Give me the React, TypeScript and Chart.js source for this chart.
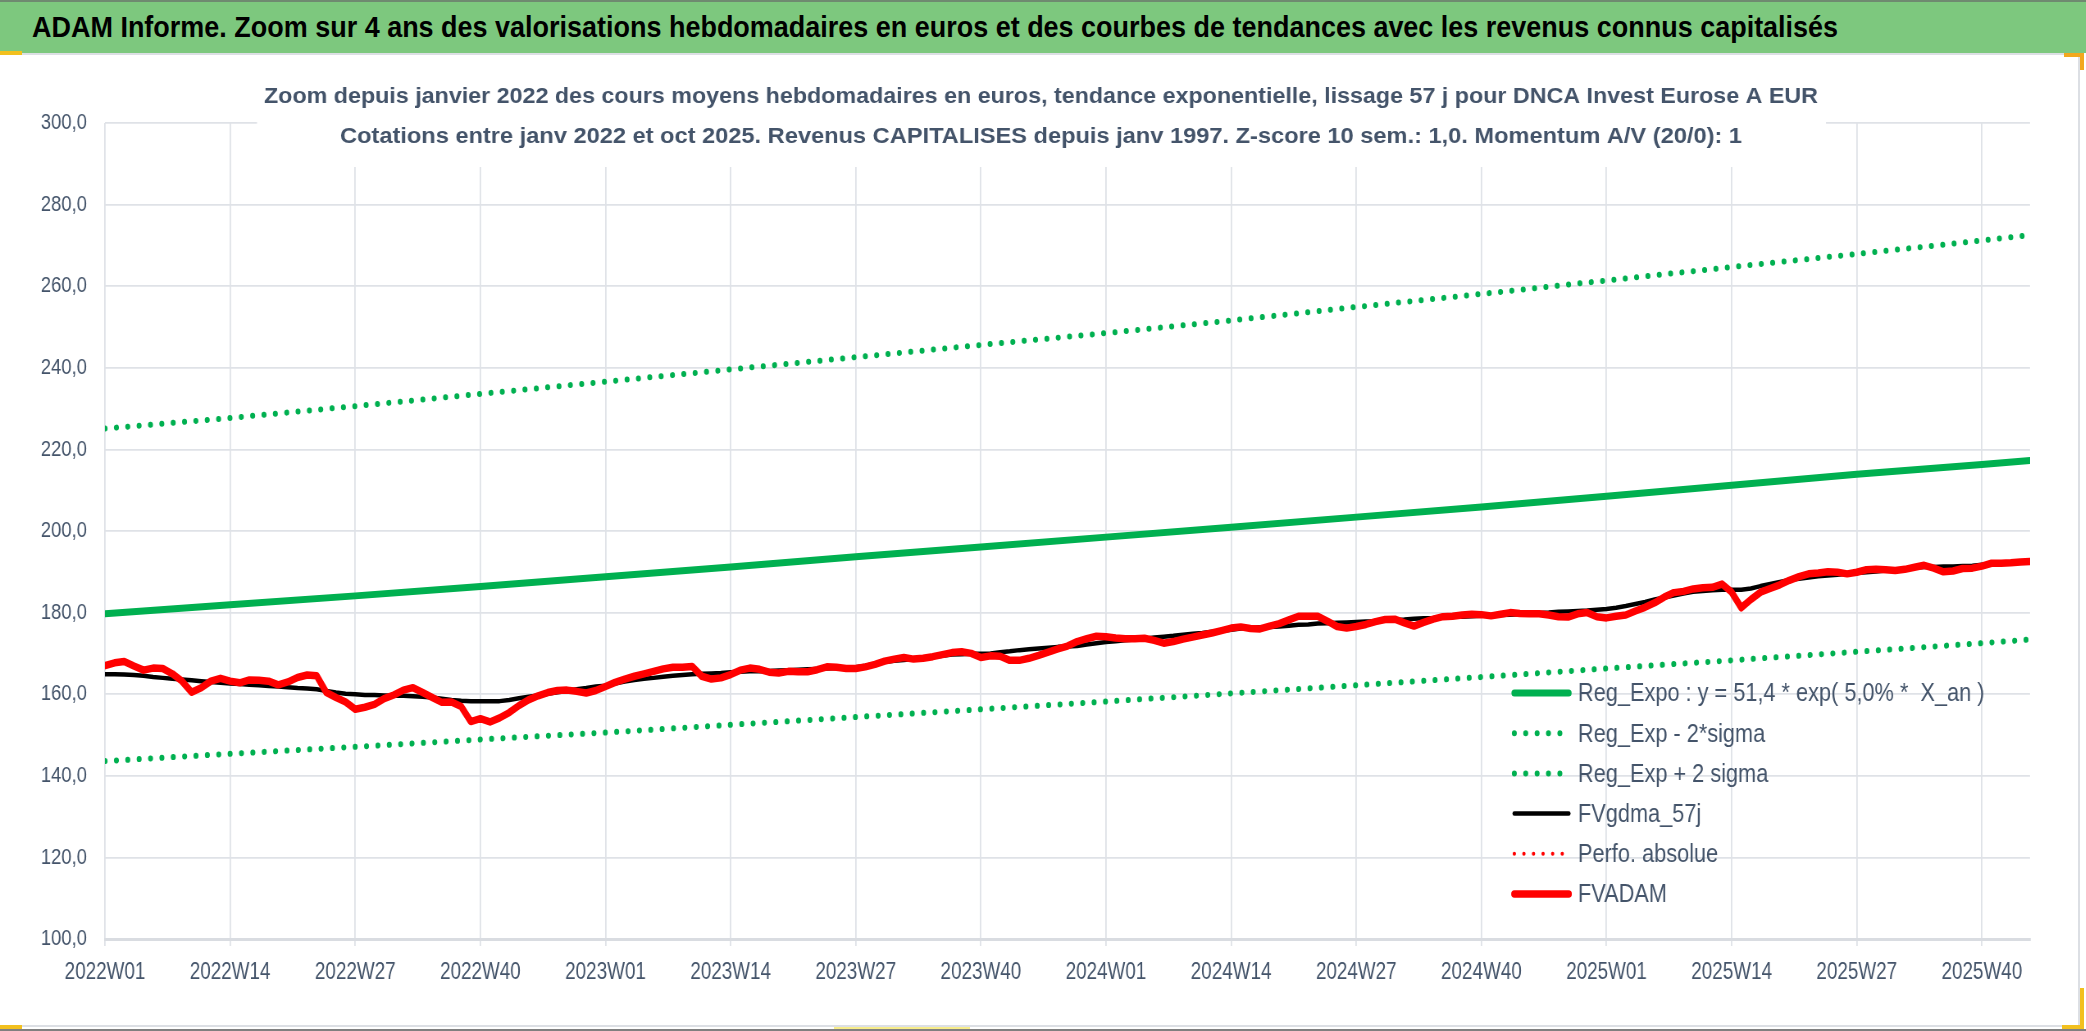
import { useEffect, useRef } from 'react';
import { Chart, registerables, type Plugin, type ChartConfiguration } from 'chart.js';

Chart.register(...registerables);

const FONT = '"Liberation Sans", Arial, sans-serif';
const TEXT = '#44546a';
const GRID = '#dfe2e7';

const TITLE =
  'ADAM Informe. Zoom sur 4 ans des valorisations hebdomadaires en euros et des courbes de tendances avec les revenus connus capitalisés';
const SUBTITLE = [
  'Zoom depuis janvier 2022 des cours moyens hebdomadaires en euros, tendance exponentielle, lissage 57 j pour DNCA Invest Eurose A EUR',
  'Cotations entre janv 2022 et oct 2025. Revenus CAPITALISES depuis janv 1997. Z-score 10 sem.: 1,0. Momentum A/V (20/0): 1',
];

// x axis: week index since 2022W01, a label every 13 weeks
const xTickLabels = [
  '2022W01', '2022W14', '2022W27', '2022W40',
  '2023W01', '2023W14', '2023W27', '2023W40',
  '2024W01', '2024W14', '2024W27', '2024W40',
  '2025W01', '2025W14', '2025W27', '2025W40',
];
const WEEK_STEP = 13;
const LAST_WEEK = 200;

// trend curves, read at each labelled week and at the last week
const trendWeeks = [0, 13, 26, 39, 52, 65, 78, 91, 104, 117, 130, 143, 156, 169, 182, 195, 200];
const regExpo = [179.7, 181.9, 184.1, 186.4, 188.8, 191.2, 193.7, 196.1, 198.5, 200.9, 203.4, 205.9, 208.5, 211.2, 213.9, 216.3, 217.3];
const regExpMinus = [143.6, 145.4, 147.1, 148.9, 150.6, 152.5, 154.4, 156.3, 158.2, 160.2, 162.2, 164.2, 166.3, 168.3, 170.4, 172.5, 173.4];
const regExpPlus = [225.1, 227.7, 230.6, 233.6, 236.6, 239.6, 242.6, 245.6, 248.5, 251.6, 254.9, 258.1, 261.4, 264.7, 267.9, 271.2, 272.5];

// weekly values, week 0 .. 200
const fvgdma = [
  164.9, 164.9, 164.8, 164.7, 164.5, 164.2, 164.0, 163.8, 163.6, 163.4,
  163.2, 163.0, 162.8, 162.6, 162.5, 162.3, 162.2, 162.0, 161.9, 161.7,
  161.5, 161.4, 161.2, 160.8, 160.4, 160.1, 160.0, 159.8, 159.8, 159.7,
  159.6, 159.6, 159.5, 159.4, 159.2, 158.9, 158.6, 158.4, 158.3, 158.3,
  158.3, 158.3, 158.6, 159.0, 159.4, 159.7, 160.1, 160.5, 160.8, 161.2,
  161.5, 161.9, 162.1, 162.6, 163.1, 163.5, 163.8, 164.0, 164.3, 164.5,
  164.7, 164.9, 165.0, 165.1, 165.2, 165.4, 165.5, 165.6, 165.6, 165.7,
  165.8, 165.9, 166.0, 166.1, 166.2, 166.3, 166.4, 166.5, 166.6, 167.0,
  167.5, 167.9, 168.2, 168.4, 168.6, 168.8, 169.1, 169.4, 169.7, 169.8,
  169.9, 169.9, 170.0, 170.3, 170.5, 170.8, 171.0, 171.2, 171.4, 171.6,
  171.7, 171.8, 172.2, 172.5, 172.8, 173.0, 173.2, 173.4, 173.6, 173.9,
  174.1, 174.3, 174.6, 174.8, 175.0, 175.3, 175.5, 175.8, 176.1, 176.3,
  176.4, 176.5, 176.6, 176.8, 177.0, 177.1, 177.3, 177.4, 177.5, 177.6,
  177.7, 177.8, 177.9, 178.1, 178.2, 178.3, 178.5, 178.6, 178.7, 178.9,
  179.0, 179.0, 179.1, 179.2, 179.3, 179.4, 179.5, 179.6, 179.8, 179.9,
  180.0, 180.2, 180.3, 180.4, 180.5, 180.7, 180.9, 181.2, 181.6, 182.1,
  182.6, 183.2, 183.7, 184.2, 184.7, 185.1, 185.3, 185.5, 185.6, 185.6,
  185.6, 185.9, 186.5, 187.0, 187.5, 188.0, 188.3, 188.6, 188.9, 189.1,
  189.3, 189.5, 189.7, 189.9, 190.1, 190.3, 190.5, 190.7, 191.0, 191.2,
  191.2, 191.3, 191.3, 191.4, 191.5, 191.7, 191.9, 192.0, 192.1, 192.2,
  192.3,
];
const fvadam = [
  167.0, 167.7, 168.0, 166.9, 165.9, 166.4, 166.3, 165.0, 163.2, 160.5,
  161.6, 163.2, 163.9, 163.2, 162.8, 163.5, 163.4, 163.2, 162.3, 163.0,
  164.1, 164.7, 164.5, 160.4, 159.2, 158.1, 156.3, 156.8, 157.5, 158.9,
  159.8, 161.0, 161.6, 160.4, 159.2, 158.0, 158.1, 157.0, 153.3, 154.0,
  153.2, 154.2, 155.5, 157.2, 158.6, 159.6, 160.4, 160.9, 161.0, 160.7,
  160.3, 160.9, 161.9, 162.9, 163.7, 164.4, 165.0, 165.6, 166.2, 166.6,
  166.6, 166.8, 164.4, 163.7, 164.0, 164.8, 165.9, 166.4, 166.1, 165.4,
  165.2, 165.6, 165.5, 165.5, 166.0, 166.7, 166.6, 166.3, 166.3, 166.7,
  167.3, 168.1, 168.6, 169.0, 168.6, 168.8, 169.2, 169.7, 170.2, 170.4,
  170.0, 169.0, 169.4, 169.3, 168.3, 168.3, 168.8, 169.5, 170.3, 171.1,
  171.8, 172.9, 173.6, 174.2, 174.1, 173.8, 173.6, 173.6, 173.7, 173.2,
  172.5, 172.9, 173.5, 174.0, 174.5, 175.0, 175.6, 176.2, 176.5, 176.1,
  176.0, 176.7, 177.3, 178.2, 179.1, 179.1, 179.1, 177.9, 176.6, 176.2,
  176.6, 177.1, 177.8, 178.3, 178.4, 177.5, 176.7, 177.6, 178.4, 179.0,
  179.1, 179.4, 179.6, 179.5, 179.2, 179.6, 180.0, 179.8, 179.7, 179.7,
  179.4, 179.0, 178.9, 179.7, 180.0, 179.0, 178.7, 179.1, 179.4, 180.4,
  181.3, 182.4, 183.8, 184.9, 185.2, 185.8, 186.1, 186.2, 187.0, 185.0,
  181.2, 183.2, 185.0, 185.9, 186.8, 187.9, 188.8, 189.5, 189.7, 190.0,
  189.9, 189.5, 189.9, 190.5, 190.6, 190.5, 190.3, 190.6, 191.1, 191.6,
  190.9, 190.0, 190.2, 190.8, 190.9, 191.4, 192.1, 192.1, 192.2, 192.4,
  192.5,
];

const GREEN = '#00b050';
const RED = '#ff0000';

// The Excel export is squeezed horizontally: draw on a wider canvas and shrink it with CSS.
const BOX_W = 2076;
const BOX_H = 968;
const CANVAS_W = 2532;
const SX = BOX_W / CANVAS_W;
const px = (n: number) => n / SX; // on-screen horizontal length -> canvas units

const onTrendWeeks = (values: number[]) => values.map((y, i) => ({ x: trendWeeks[i], y }));
const weekly = (values: number[]) => values.map((y, i) => ({ x: i, y }));

// on-screen widths of the two title lines
const SUBTITLE_WIDTHS = [1554, 1402];

/** Chart title sits on a white box over the top of the plot, like in Excel. */
const subtitlePlugin: Plugin<'line'> = {
  id: 'subtitleBox',
  beforeDatasetsDraw(chart) {
    const { ctx, chartArea } = chart;
    ctx.save();
    ctx.fillStyle = '#fff';
    ctx.fillRect(chartArea.left + px(152), chartArea.top - 50, px(1569), 94);
    ctx.fillStyle = TEXT;
    ctx.font = `bold 22.5px ${FONT}`;
    ctx.textAlign = 'center';
    ctx.textBaseline = 'middle';
    const cx = chartArea.left + px(936);
    SUBTITLE.forEach((text, i) => {
      const k = px(SUBTITLE_WIDTHS[i]) / ctx.measureText(text).width;
      ctx.save();
      ctx.translate(cx, chartArea.top - 26 + i * 40);
      ctx.scale(k, 1);
      ctx.fillText(text, 0, 0);
      ctx.restore();
    });
    ctx.restore();
  },
};

/** Legend drawn inside the plot, lower right, from the datasets' own styles. */
const legendPlugin: Plugin<'line'> = {
  id: 'insideLegend',
  afterDatasetsDraw(chart) {
    const { ctx, chartArea } = chart;
    const x0 = chartArea.right - px(519);
    const x1 = x0 + px(61);
    ctx.save();
    ctx.font = `26.5px ${FONT}`;
    ctx.textBaseline = 'middle';
    chart.data.datasets.forEach((ds: any, i) => {
      const y = chartArea.top + 570 + i * 40.2;
      ctx.beginPath();
      ctx.strokeStyle = ds.borderColor;
      ctx.lineWidth = ds.borderWidth;
      ctx.lineCap = ds.borderCapStyle ?? 'butt';
      ctx.setLineDash(ds.borderDash ?? []);
      ctx.moveTo(x0 + 4, y);
      ctx.lineTo(x1 - 4, y);
      ctx.stroke();
      ctx.setLineDash([]);
      ctx.fillStyle = TEXT;
      ctx.fillText(ds.label, x1 + px(6), y + 1);
    });
    ctx.restore();
  },
};

function TrendChart() {
  const canvasRef = useRef<HTMLCanvasElement>(null);

  useEffect(() => {
    if (!canvasRef.current) return;

    const line = { pointRadius: 0, tension: 0, borderCapStyle: 'round' as const, borderJoinStyle: 'round' as const };
    const dots = [0.1, px(11.3)];

    const config: ChartConfiguration<'line'> = {
      type: 'line',
      data: {
        datasets: [
          { ...line, label: 'Reg_Expo : y = 51,4 * exp( 5,0% *  X_an )', data: onTrendWeeks(regExpo), borderColor: GREEN, borderWidth: 7, order: 5 },
          { ...line, label: 'Reg_Exp - 2*sigma', data: onTrendWeeks(regExpMinus), borderColor: GREEN, borderWidth: 6, borderDash: dots, order: 4 },
          { ...line, label: 'Reg_Exp + 2 sigma', data: onTrendWeeks(regExpPlus), borderColor: GREEN, borderWidth: 6, borderDash: dots, order: 3 },
          { ...line, label: 'FVgdma_57j', data: weekly(fvgdma), borderColor: '#000000', borderWidth: 4.5, order: 2 },
          { ...line, label: 'Perfo. absolue', data: [], borderColor: RED, borderWidth: 4, borderDash: [0.1, px(9.5)], order: 1 },
          { ...line, label: 'FVADAM', data: weekly(fvadam), borderColor: RED, borderWidth: 7.5, order: 0 },
        ],
      },
      options: {
        responsive: false,
        animation: false,
        layout: { padding: { top: 67, right: CANVAS_W - px(2030), left: 0, bottom: 0 } },
        plugins: {
          legend: { display: false },
          title: { display: false },
          tooltip: { enabled: false },
        },
        scales: {
          x: {
            type: 'linear',
            min: 0,
            max: LAST_WEEK,
            afterBuildTicks: (scale) => {
              scale.ticks = xTickLabels.map((_, k) => ({ value: k * WEEK_STEP }));
            },
            afterFit: (scale) => { scale.height = 85; },
            grid: { color: GRID, lineWidth: 1.8, tickLength: 7, drawTicks: true },
            border: { display: true, color: '#d9dce1', width: 3 },
            ticks: {
              autoSkip: false,
              maxRotation: 0,
              padding: 13,
              color: TEXT,
              font: { family: FONT, size: 23 },
              callback: (v) => xTickLabels[Math.round(Number(v) / WEEK_STEP)],
            },
          },
          y: {
            min: 100,
            max: 300,
            afterFit: (scale) => { scale.width = px(105); },
            grid: { color: GRID, lineWidth: 1.7, drawTicks: false },
            border: { display: false },
            ticks: {
              stepSize: 20,
              padding: px(18),
              color: TEXT,
              font: { family: FONT, size: 22.5 },
              callback: (v) => Number(v).toFixed(1).replace('.', ','),
            },
          },
        },
      },
      plugins: [subtitlePlugin, legendPlugin],
    };

    const chart = new Chart(canvasRef.current, config);
    return () => { chart.destroy(); };
  }, []);

  return (
    <canvas
      ref={canvasRef}
      width={CANVAS_W}
      height={BOX_H}
      style={{ position: 'absolute', left: 0, top: 56, width: BOX_W, height: BOX_H, display: 'block' }}
    />
  );
}

export default function App() {
  return (
    <div
      style={{
        position: 'fixed', left: 0, top: 0, width: 2086, height: 1031,
        background: '#fff', overflow: 'hidden', fontFamily: FONT,
      }}
    >
      <div
        style={{
          position: 'absolute', left: 0, top: 0, width: 2086, height: 53,
          background: '#7dc87e', borderTop: '2px solid #6f8a70', boxSizing: 'border-box',
        }}
      >
        <div
          style={{
            position: 'absolute', left: 32, top: 0, height: 51, lineHeight: '51px',
            fontWeight: 'bold', fontSize: 29, color: '#000', whiteSpace: 'nowrap',
            transform: 'scaleX(0.93)', transformOrigin: 'left center',
          }}
        >
          {TITLE}
        </div>
      </div>
      {/* chart frame */}
      <div
        style={{
          position: 'absolute', left: 0, top: 53, width: 2080, height: 974,
          border: '2px solid #dcdfe4', borderLeft: 'none', boxSizing: 'border-box',
        }}
      />
      {/* selection handles */}
      <div style={{ position: 'absolute', left: 0, top: 51, width: 22, height: 4, background: '#f2c01e' }} />
      <div style={{ position: 'absolute', left: 2064, top: 53, width: 20, height: 4, background: '#f2a81e' }} />
      <div style={{ position: 'absolute', left: 2080, top: 53, width: 4, height: 17, background: '#f2a81e' }} />
      <div style={{ position: 'absolute', left: 2080, top: 988, width: 4, height: 40, background: '#f2c01e' }} />
      <div style={{ position: 'absolute', left: 2062, top: 1025, width: 22, height: 4, background: '#f2c01e' }} />
      <div style={{ position: 'absolute', left: 0, top: 1025, width: 22, height: 4, background: '#f2c01e' }} />
      <div style={{ position: 'absolute', left: 834, top: 1027, width: 136, height: 3, background: '#f7ec8a' }} />
      <div style={{ position: 'absolute', left: 0, top: 1029, width: 2086, height: 2, background: '#808080' }} />
      <TrendChart />
    </div>
  );
}
